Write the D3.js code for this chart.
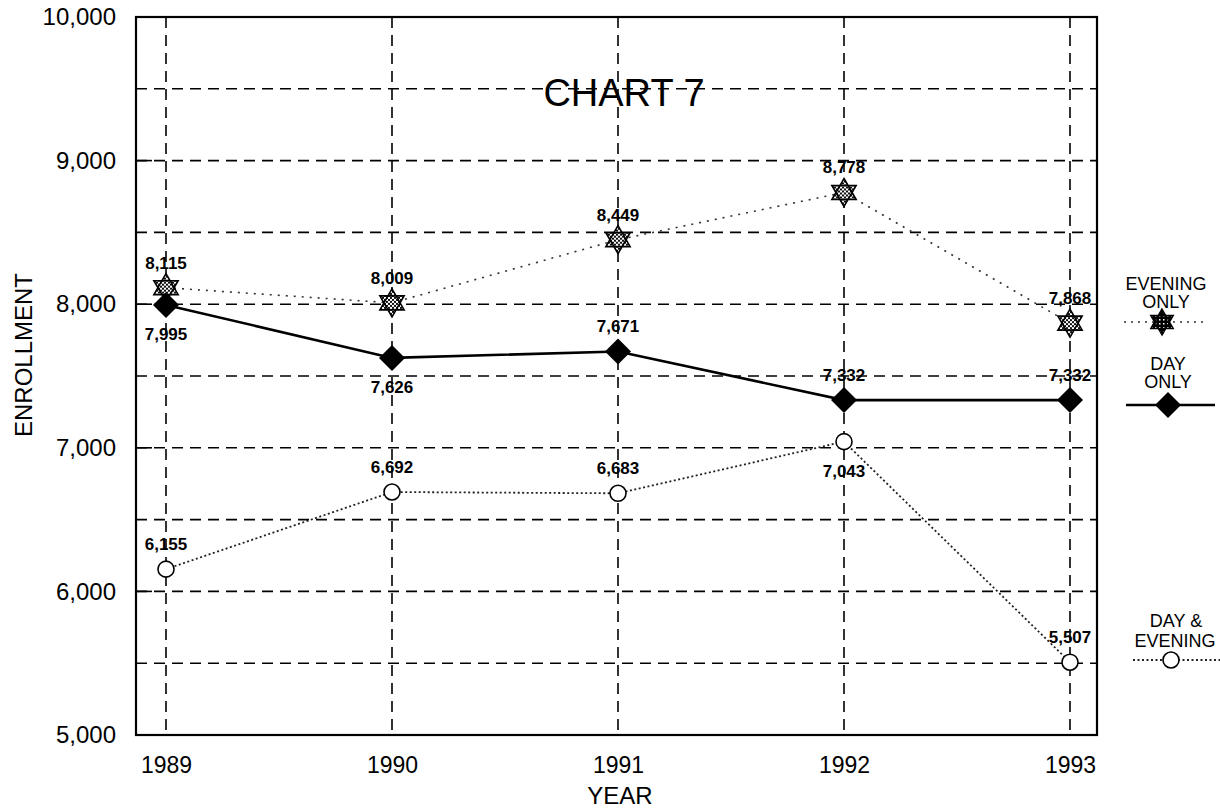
<!DOCTYPE html>
<html>
<head>
<meta charset="utf-8">
<script src="https://cdn.jsdelivr.net/npm/d3@7/dist/d3.min.js"></script>
<style>
  html, body { margin: 0; padding: 0; background: #fff; }
  svg { display: block; font-family: Arial, "Liberation Sans", Helvetica, sans-serif; }
</style>
</head>
<body>
<svg id="chart" width="1220" height="810"></svg>
<script>
// ---- data ----
const years = ["1989", "1990", "1991", "1992", "1993"];
const eveningOnly = [8115, 8009, 8449, 8778, 7868];
const dayOnly = [7995, 7626, 7671, 7332, 7332];
const dayAndEvening = [6155, 6692, 6683, 7043, 5507];
// label placement relative to marker
const eveningLabelSide = ["above", "above", "above", "above", "above"];
const dayLabelSide = ["below", "below", "above", "above", "above"];
const dayEveLabelSide = ["above", "above", "above", "below", "above"];
const yTicks = [5000, 6000, 7000, 8000, 9000, 10000];
const yGrid = [5500, 6000, 6500, 7000, 7500, 8000, 8500, 9000, 9500];

const svg = d3.select("#chart");
const L = 136, R = 1097, T = 17, B = 735;

const x = d3.scalePoint().domain(years).range([166, 1070]);
const y = d3.scaleLinear().domain([5000, 10000]).range([B, T]);

// pattern for star fill
const defs = svg.append("defs");
const pat = defs.append("pattern").attr("id", "check").attr("width", 4).attr("height", 4)
  .attr("patternUnits", "userSpaceOnUse");
pat.append("rect").attr("width", 4).attr("height", 4).attr("fill", "#fff");
pat.append("rect").attr("width", 2).attr("height", 2).attr("fill", "#111");
pat.append("rect").attr("x", 2).attr("y", 2).attr("width", 2).attr("height", 2).attr("fill", "#111");
const pat2 = defs.append("pattern").attr("id", "check2").attr("width", 4).attr("height", 4)
  .attr("patternUnits", "userSpaceOnUse");
pat2.append("rect").attr("width", 4).attr("height", 4).attr("fill", "#000");
pat2.append("rect").attr("x", 1).attr("y", 1).attr("width", 1.5).attr("height", 1.5).attr("fill", "#fff");

// gridlines
const grid = svg.append("g").attr("stroke", "#000").attr("stroke-width", 1.6)
  .attr("stroke-dasharray", "11,7").attr("fill", "none");
grid.selectAll("line.h").data(yGrid).join("line").attr("class", "h")
  .attr("x1", L).attr("x2", R).attr("y1", d => y(d)).attr("y2", d => y(d));
grid.selectAll("line.v").data(years).join("line").attr("class", "v")
  .attr("x1", d => x(d)).attr("x2", d => x(d)).attr("y1", T).attr("y2", B);

// small inner ticks on left axis
svg.append("g").selectAll("line").data(yTicks.slice(1, -1)).join("line")
  .attr("x1", L).attr("x2", L + 16).attr("y1", d => y(d)).attr("y2", d => y(d))
  .attr("stroke", "#000").attr("stroke-width", 1.6);

// border
svg.append("rect").attr("x", L).attr("y", T).attr("width", R - L).attr("height", B - T)
  .attr("fill", "none").attr("stroke", "#000").attr("stroke-width", 2.2);

// axes
const yAxis = svg.append("g").attr("transform", `translate(${L},0)`)
  .call(d3.axisLeft(y).tickValues(yTicks).tickFormat(d3.format(",")).tickSize(0).tickPadding(20));
yAxis.select(".domain").remove();
yAxis.selectAll("text").attr("font-size", 24).attr("font-family", "Arial, 'Liberation Sans', sans-serif")
  .attr("fill", "#000");

const xAxis = svg.append("g").attr("transform", `translate(0,${B})`)
  .call(d3.axisBottom(x).tickSize(0).tickPadding(22));
xAxis.select(".domain").remove();
xAxis.selectAll("text").attr("font-size", 23).attr("font-family", "Arial, 'Liberation Sans', sans-serif")
  .attr("fill", "#000");

// axis titles
svg.append("text").attr("x", 620).attr("y", 804).attr("text-anchor", "middle")
  .attr("font-size", 24).text("YEAR");
svg.append("text").attr("transform", "translate(32,355) rotate(-90)").attr("text-anchor", "middle")
  .attr("font-size", 24).text("ENROLLMENT");

// title
svg.append("text").attr("x", 624).attr("y", 106).attr("text-anchor", "middle")
  .attr("font-size", 38).text("CHART 7");

// lines
const line = d3.line().x((d, i) => x(years[i])).y(d => y(d));
svg.append("path").datum(eveningOnly).attr("d", line).attr("fill", "none")
  .attr("stroke", "#333").attr("stroke-width", 1.6).attr("stroke-dasharray", "2,6");
svg.append("path").datum(dayOnly).attr("d", line).attr("fill", "none")
  .attr("stroke", "#000").attr("stroke-width", 2.6);
svg.append("path").datum(dayAndEvening).attr("d", line).attr("fill", "none")
  .attr("stroke", "#222").attr("stroke-width", 1.8).attr("stroke-dasharray", "2,2.5");

// marker shapes
function starPath(r) {
  const t1 = d3.range(3).map(k => { const a = -Math.PI / 2 + k * 2 * Math.PI / 3; return [r * Math.cos(a), r * Math.sin(a)]; });
  const t2 = d3.range(3).map(k => { const a = Math.PI / 2 + k * 2 * Math.PI / 3; return [r * Math.cos(a), r * Math.sin(a)]; });
  return "M" + t1.join("L") + "Z M" + t2.join("L") + "Z";
}
function diamondPath(r) {
  return `M0,${-r}L${r},0L0,${r}L${-r},0Z`;
}

// evening stars
svg.append("g").selectAll("path").data(eveningOnly).join("path")
  .attr("transform", (d, i) => `translate(${x(years[i])},${y(d)})`)
  .attr("d", starPath(14)).attr("fill", "url(#check)").attr("fill-rule", "nonzero")
  .attr("stroke", "#000").attr("stroke-width", 1.6);

// day diamonds
svg.append("g").selectAll("path").data(dayOnly).join("path")
  .attr("transform", (d, i) => `translate(${x(years[i])},${y(d)})`)
  .attr("d", diamondPath(13)).attr("fill", "#000");

// day & evening circles
svg.append("g").selectAll("circle").data(dayAndEvening).join("circle")
  .attr("cx", (d, i) => x(years[i])).attr("cy", d => y(d)).attr("r", 8)
  .attr("fill", "#fff").attr("stroke", "#000").attr("stroke-width", 1.6);

// value labels
function addLabels(vals, sides) {
  svg.append("g").selectAll("text").data(vals).join("text")
    .attr("x", (d, i) => x(years[i]))
    .attr("y", (d, i) => y(d) + (sides[i] === "above" ? -19 : 35))
    .attr("text-anchor", "middle").attr("font-size", 17).attr("font-weight", "bold").attr("fill", "#000")
    .text(d => d3.format(",")(d));
}
addLabels(eveningOnly, eveningLabelSide);
addLabels(dayOnly, dayLabelSide);
addLabels(dayAndEvening, dayEveLabelSide);

// legend
const lg = svg.append("g").attr("font-size", 18).attr("text-anchor", "middle");
// evening only
lg.append("text").attr("x", 1166).attr("y", 290).text("EVENING");
lg.append("text").attr("x", 1166).attr("y", 308).text("ONLY");
lg.append("line").attr("x1", 1124).attr("x2", 1208).attr("y1", 322).attr("y2", 322)
  .attr("stroke", "#333").attr("stroke-width", 1.6).attr("stroke-dasharray", "2,5");
lg.append("path").attr("transform", "translate(1162,322)").attr("d", starPath(13))
  .attr("fill", "url(#check2)").attr("stroke", "#000").attr("stroke-width", 1.4);
// day only
lg.append("text").attr("x", 1168).attr("y", 370).text("DAY");
lg.append("text").attr("x", 1168).attr("y", 388).text("ONLY");
lg.append("line").attr("x1", 1126).attr("x2", 1215).attr("y1", 405).attr("y2", 405)
  .attr("stroke", "#000").attr("stroke-width", 2.6);
lg.append("path").attr("transform", "translate(1168,405)").attr("d", diamondPath(13)).attr("fill", "#000");
// day & evening
lg.append("text").attr("x", 1176).attr("y", 627).text("DAY &");
lg.append("text").attr("x", 1175).attr("y", 647).text("EVENING");
lg.append("line").attr("x1", 1133).attr("x2", 1220).attr("y1", 660).attr("y2", 660)
  .attr("stroke", "#222").attr("stroke-width", 1.8).attr("stroke-dasharray", "2,2.5");
lg.append("circle").attr("cx", 1171).attr("cy", 660).attr("r", 8)
  .attr("fill", "#fff").attr("stroke", "#000").attr("stroke-width", 1.6);
</script>
</body>
</html>
